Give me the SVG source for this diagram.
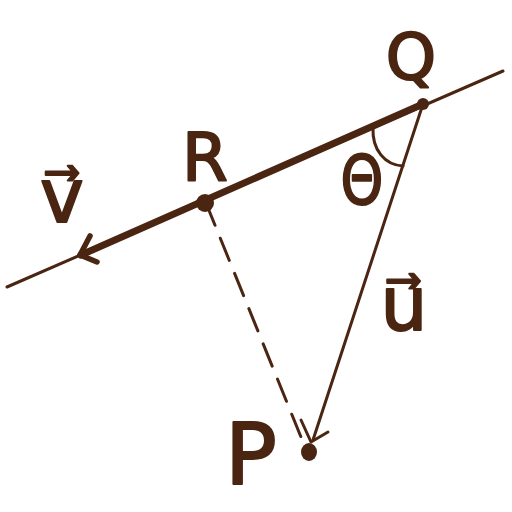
<svg xmlns="http://www.w3.org/2000/svg" width="512" height="512" viewBox="0 0 512 512">
<style>
.ln{stroke:#4a2511;fill:none;stroke-linecap:round;stroke-linejoin:round}
.thin{stroke-width:3}
.thick{stroke-width:7}
.lbl{fill:#4a2511;stroke:#4a2511;stroke-width:2;stroke-linejoin:round;font-family:"DejaVu Sans","Liberation Sans",sans-serif;font-weight:normal;text-anchor:middle}
.pt{fill:#4a2511}
</style>
<rect width="512" height="512" fill="#ffffff"/>
<g id="connectors">
<line class="ln thin" x1="7" y1="287" x2="503" y2="71"/>
<line class="ln thick" x1="423" y1="104" x2="81" y2="255"/>
<polyline class="ln" points="90,236 80,255 97,262" style="stroke-width:5.5"/>
<line class="ln thin" x1="206" y1="203" x2="303" y2="442" stroke-dasharray="24 14"/>
<line class="ln thin" x1="423" y1="104" x2="313" y2="440"/>
<polyline class="ln thin" points="301,420 311,442 328,432"/>
<path class="ln thin" d="M373,128 C372,150 385,165 403,166"/>
</g>
<g id="node-Q"><circle class="pt" cx="423" cy="104" r="6"/><text class="lbl" x="411" y="79" font-size="64">Q</text></g>
<g id="node-R"><circle class="pt" cx="205" cy="203" r="9"/><text class="lbl" x="205" y="180" font-size="66">R</text></g>
<g id="node-P"><ellipse class="pt" cx="309" cy="452" rx="8" ry="9"/><text class="lbl" x="251" y="484" font-size="86">P</text></g>
<g id="label-theta"><text class="lbl" x="362" y="204" font-size="68" style="font-size:68px" transform="translate(362 204) scale(0.8 1) translate(-362 -204)">Θ</text></g>
<g id="label-v"><text class="lbl" x="62" y="222" font-size="74">v⃗</text></g>
<g id="label-u"><text class="lbl" x="404" y="330" font-size="74">u⃗</text></g>
</svg>
